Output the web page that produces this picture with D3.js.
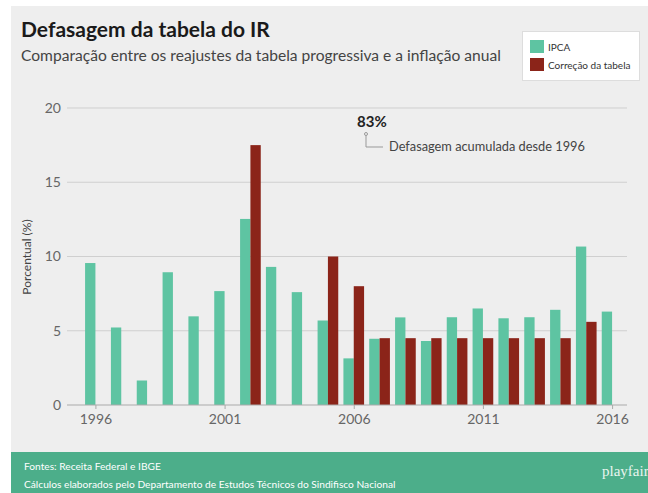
<!DOCTYPE html>
<html>
<head>
<meta charset="utf-8">
<script src="https://cdn.jsdelivr.net/npm/d3@7"></script>
<style>
  body { margin: 0; background: #fff; }
  svg { display: block; }
  text { font-family: Lato, "Open Sans", sans-serif; }
</style>
</head>
<body>
<svg id="chart"></svg>
<script>
// dados
var years = [1996, 1997, 1998, 1999, 2000, 2001, 2002, 2003, 2004, 2005, 2006,
             2007, 2008, 2009, 2010, 2011, 2012, 2013, 2014, 2015, 2016];
var ipca = [9.56, 5.22, 1.65, 8.94, 5.97, 7.67, 12.53, 9.30, 7.60, 5.69, 3.14,
            4.46, 5.90, 4.31, 5.91, 6.50, 5.84, 5.91, 6.41, 10.67, 6.29];
var correcao = [null, null, null, null, null, null, 17.5, null, null, 10, 8,
                4.5, 4.5, 4.5, 4.5, 4.5, 4.5, 4.5, 4.5, 5.6, null];
var seriesNames = ["IPCA", "Correção da tabela"];
var yTicks = [0, 5, 10, 15, 20];
var xTicks = [1996, 2001, 2006, 2011, 2016];

var width = 648, height = 493;
var colIpca = "#5ec4a2", colCorr = "#8b2419";

var svg = d3.select("#chart").attr("width", width).attr("height", height);

// fundo
svg.append("rect").attr("x", 11).attr("y", 6).attr("width", width - 11).attr("height", 446)
    .attr("fill", "#eeeeee");
svg.append("rect").attr("x", 11).attr("y", 452).attr("width", width - 11).attr("height", height - 452)
    .attr("fill", "#4cae8a");

var x = d3.scaleLinear().domain([1994.9, 2016.5]).range([67, 625]);
var y = d3.scaleLinear().domain([0, 20]).range([405, 108]);
var step = x(1997) - x(1996);
var sub = d3.scaleBand().domain(["ipca", "corr"]).range([-0.4 * step, 0.4 * step]).padding(0);

// grade
svg.append("g")
    .selectAll("line")
    .data(yTicks.filter(d => d > 0))
    .enter().append("line")
    .attr("x1", 67).attr("x2", 627)
    .attr("y1", d => y(d)).attr("y2", d => y(d))
    .attr("stroke", "#cfcfcf").attr("stroke-width", 1);

svg.append("g")
    .selectAll("text")
    .data(yTicks)
    .enter().append("text")
    .attr("x", 61).attr("y", d => y(d)).attr("dy", "0.35em")
    .attr("text-anchor", "end")
    .attr("font-size", 14).attr("fill", "#666")
    .text(d => d);

svg.append("text")
    .attr("transform", "translate(31,257) rotate(-90)")
    .attr("text-anchor", "middle")
    .attr("font-size", 12).attr("fill", "#444")
    .text("Porcentual (%)");

// barras
var data = years.map((yr, i) => ({ year: yr, ipca: ipca[i], corr: correcao[i] }));

svg.append("g").selectAll("rect")
    .data(data)
    .enter().append("rect")
    .attr("x", d => x(d.year) + sub("ipca"))
    .attr("width", sub.bandwidth())
    .attr("y", d => y(d.ipca))
    .attr("height", d => y(0) - y(d.ipca))
    .attr("fill", colIpca);

svg.append("g").selectAll("rect")
    .data(data.filter(d => d.corr != null))
    .enter().append("rect")
    .attr("x", d => x(d.year) + sub("corr"))
    .attr("width", sub.bandwidth())
    .attr("y", d => y(d.corr))
    .attr("height", d => y(0) - y(d.corr))
    .attr("fill", colCorr);

// eixo x
var xAxis = svg.append("g")
    .attr("transform", `translate(0,${y(0)})`)
    .call(d3.axisBottom(x).tickValues(xTicks).tickFormat(d3.format("d")).tickSize(4).tickPadding(5));
xAxis.select(".domain").attr("stroke", "#aaa").attr("d", "M67,0H627");
xAxis.selectAll(".tick line").attr("stroke", "#aaa");
xAxis.selectAll(".tick text").attr("font-family", "Lato, sans-serif")
    .attr("font-size", 14).attr("fill", "#666");

// títulos
svg.append("text").attr("x", 21).attr("y", 37)
    .attr("font-size", 21).attr("font-weight", "bold").attr("fill", "#1a1a1a")
    .text("Defasagem da tabela do IR");
svg.append("text").attr("x", 21).attr("y", 61)
    .attr("font-size", 15.6).attr("fill", "#444")
    .text("Comparação entre os reajustes da tabela progressiva e a inflação anual");

// legenda
var legend = svg.append("g");
legend.append("rect").attr("x", 522.5).attr("y", 31.5).attr("width", 117).attr("height", 49)
    .attr("fill", "#fff").attr("stroke", "#ddd");
legend.selectAll(".sw")
    .data(seriesNames)
    .enter().append("rect")
    .attr("x", 530).attr("y", (d, i) => 40 + i * 18)
    .attr("width", 14).attr("height", 13)
    .attr("fill", (d, i) => i == 0 ? colIpca : colCorr);
legend.selectAll(".lb")
    .data(seriesNames)
    .enter().append("text")
    .attr("x", 548).attr("y", (d, i) => 50.5 + i * 18)
    .attr("font-size", 10).attr("fill", "#333")
    .text(d => d);

// anotação
var ann = svg.append("g");
ann.append("text").attr("x", 357).attr("y", 127)
    .attr("font-size", 15).attr("font-weight", "bold").attr("fill", "#222")
    .text("83%");
ann.append("circle").attr("cx", 366).attr("cy", 134).attr("r", 1.5)
    .attr("fill", "none").attr("stroke", "#999");
ann.append("path").attr("d", "M366,135.5V147H383")
    .attr("fill", "none").attr("stroke", "#999");
ann.append("text").attr("x", 389).attr("y", 151)
    .attr("font-size", 12.8).attr("fill", "#444")
    .text("Defasagem acumulada desde 1996");

// rodapé
svg.append("text").attr("x", 24).attr("y", 470)
    .attr("font-size", 10.2).attr("fill", "#fff")
    .text("Fontes: Receita Federal e IBGE");
svg.append("text").attr("x", 24).attr("y", 488)
    .attr("font-size", 10.2).attr("fill", "#fff")
    .text("Cálculos elaborados pelo Departamento de Estudos Técnicos do Sindifisco Nacional");
svg.append("text").attr("x", 602).attr("y", 476)
    .style("font-family", "'Liberation Serif', 'DejaVu Serif', serif")
    .attr("font-size", 15).attr("fill", "#e8f5ef")
    .text("playfair");
</script>
</body>
</html>
